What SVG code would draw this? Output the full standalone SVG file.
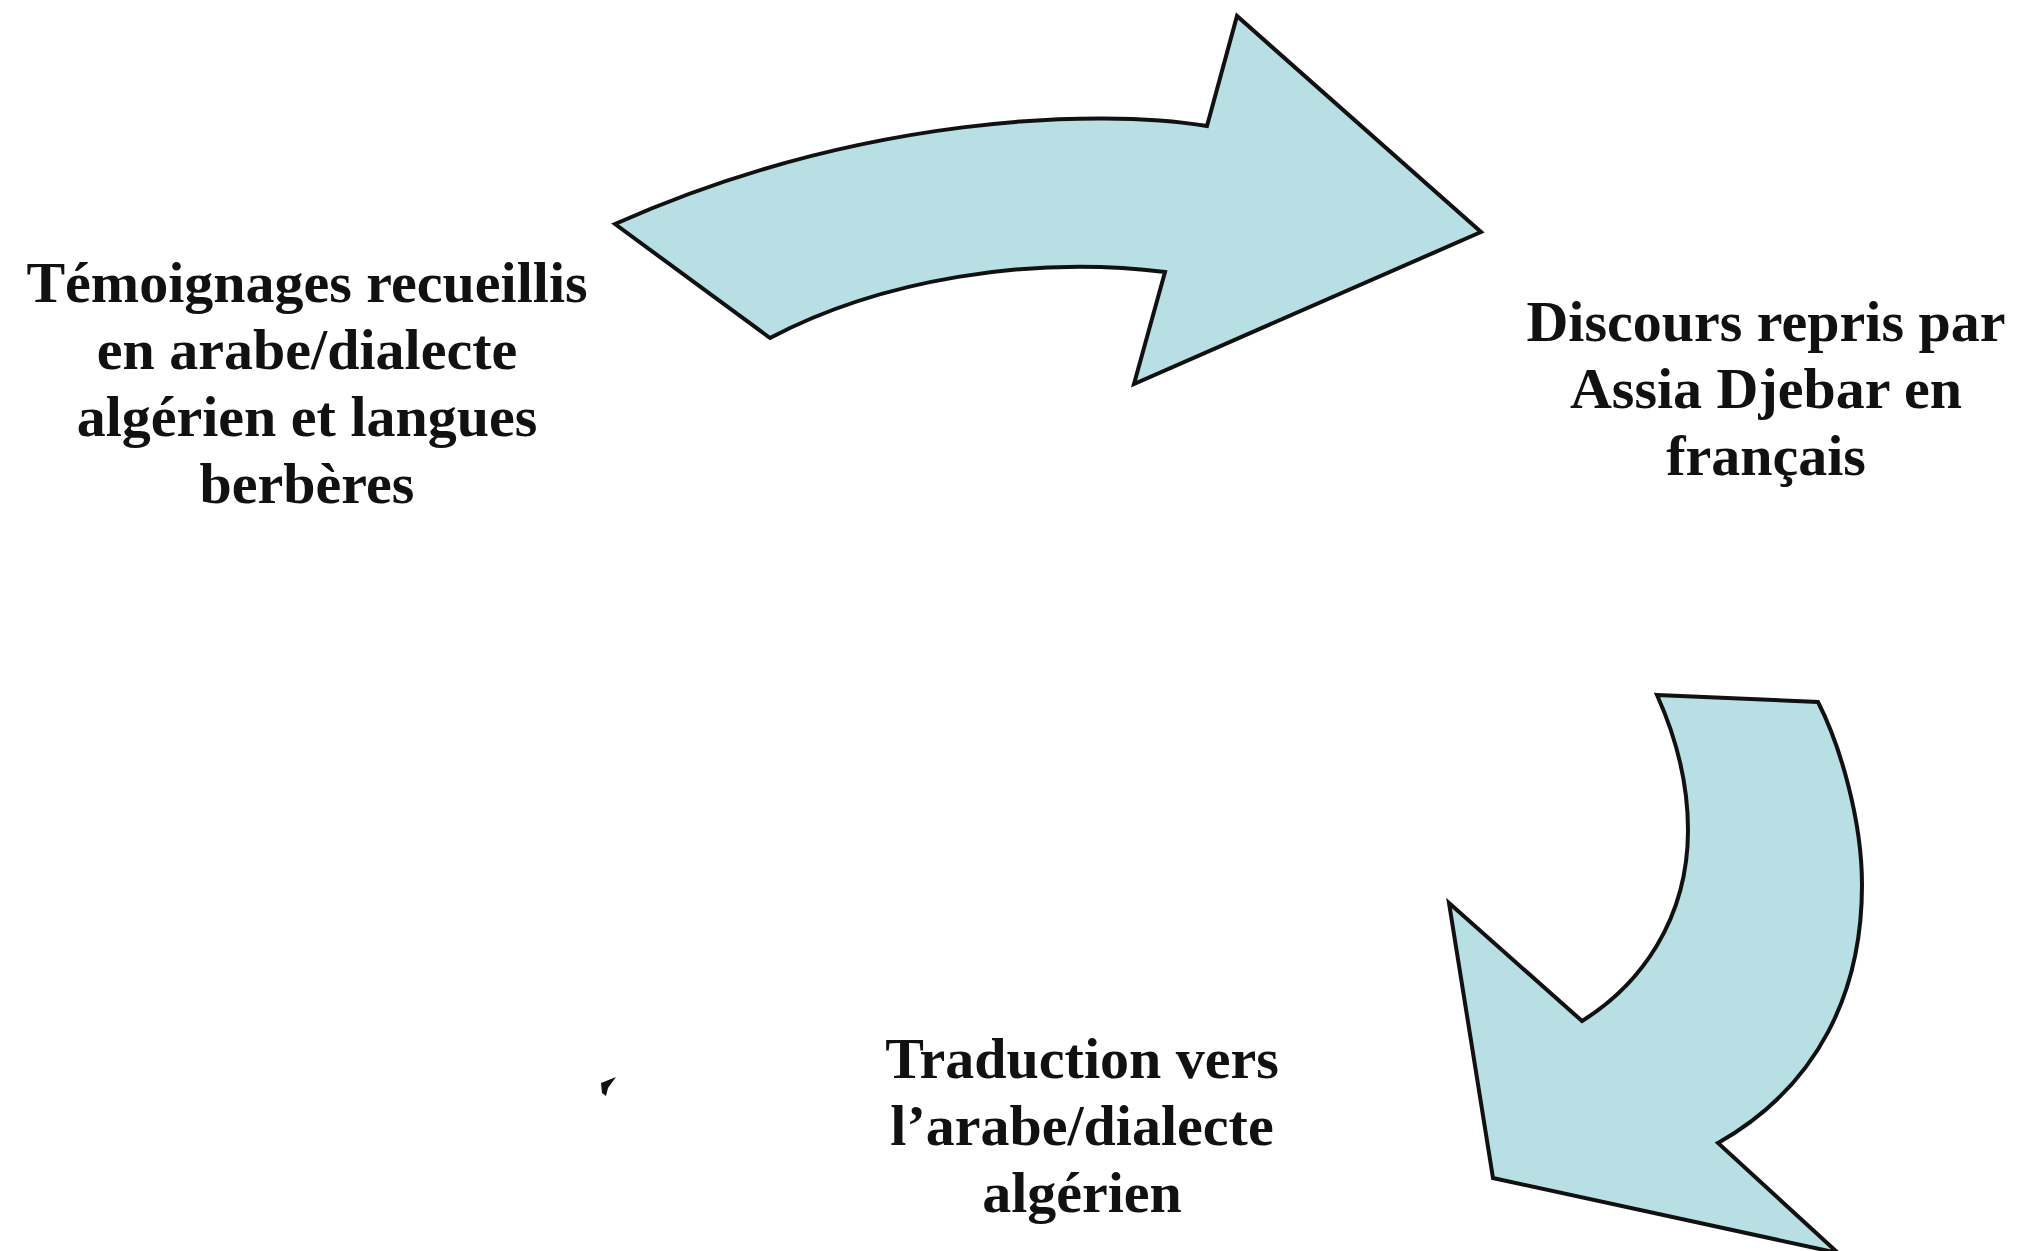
<svg xmlns="http://www.w3.org/2000/svg" width="2018" height="1251" viewBox="0 0 2018 1251">
<style>
.arrow{fill:#B8DFE3;stroke:#111;stroke-width:4;stroke-linejoin:miter}
.lbl{font-family:"Liberation Serif","Times New Roman",serif;font-weight:bold;font-size:58px;fill:#111;text-anchor:middle}
</style>
<rect width="2018" height="1251" fill="#fff"/>
<g id="connectors">
<path id="arrow1" class="arrow" d="M1207,126 C1100,108 860,115 615,224 L770,338 C880,280 1030,255 1165,272 L1134,384 L1481,232 L1237,16 Z"/>
<path id="arrow2" class="arrow" d="M1657,695 L1818,702 C1840,745 1862,820 1862,885 C1862,990 1820,1085 1718,1143 L1838,1253 L1493,1178 L1449,903 L1582,1021 C1640,985 1688,920 1688,830 C1688,780 1675,735 1657,695 Z"/>
<path id="mark" d="M601,1083 L616,1077 L608,1088 L606,1096 L602,1093 Z" fill="#111"/>
</g>
<g id="node-temoignages">
<text class="lbl" x="307" y="302">Témoignages recueillis</text>
<text class="lbl" x="307" y="369">en arabe/dialecte</text>
<text class="lbl" x="307" y="436">algérien et langues</text>
<text class="lbl" x="307" y="503">berbères</text>
</g>
<g id="node-discours">
<text class="lbl" x="1766" y="341">Discours repris par</text>
<text class="lbl" x="1766" y="408">Assia Djebar en</text>
<text class="lbl" x="1766" y="475">français</text>
</g>
<g id="node-traduction">
<text class="lbl" x="1082" y="1078">Traduction vers</text>
<text class="lbl" x="1082" y="1145">l’arabe/dialecte</text>
<text class="lbl" x="1082" y="1212">algérien</text>
</g>
</svg>
